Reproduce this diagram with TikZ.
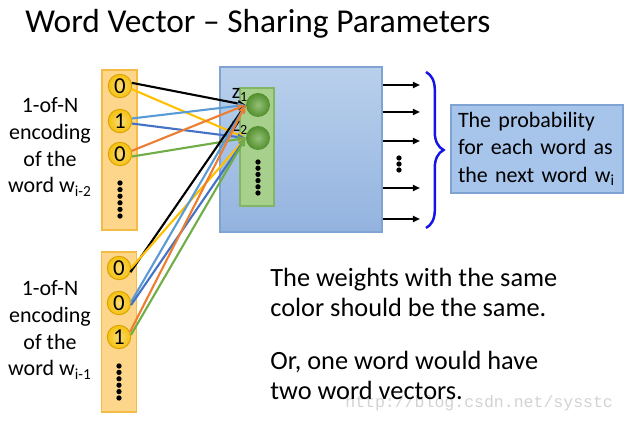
\documentclass[tikz,border=0pt]{standalone}
\usepackage{fontspec}
\setmainfont{Carlito}
\newfontfamily\wmfont{Liberation Mono}
\usetikzlibrary{arrows.meta,positioning,calc,decorations.pathreplacing}
\definecolor{barfill}{HTML}{FDD68C}
\definecolor{baredge}{HTML}{F4BC45}
\definecolor{bitgold}{HTML}{F5C00C}
\definecolor{bitedge}{HTML}{D8A300}
\definecolor{layertop}{HTML}{B9D0EC}
\definecolor{layerbot}{HTML}{93B3DF}
\definecolor{layeredge}{HTML}{7FA4D4}
\definecolor{hidfill}{HTML}{A8D08D}
\definecolor{hidedge}{HTML}{82B564}
\definecolor{hidball}{HTML}{5A9E30}
\definecolor{probfill}{HTML}{A7C4EA}
\definecolor{wyellow}{HTML}{FFC000}
\definecolor{wlblue}{HTML}{5B9BD5}
\definecolor{wdblue}{HTML}{4472C4}
\definecolor{worange}{HTML}{ED7D31}
\definecolor{wgreen}{HTML}{70AD47}
\definecolor{bracec}{HTML}{1414E6}
\definecolor{markgray}{HTML}{D2D2D2}
\tikzset{
  inbar/.style={draw=baredge, fill=barfill, line width=0.6pt, minimum width=0.7cm,
    minimum height=3.2cm, inner sep=0pt},
  bit/.style={circle, draw=bitedge, inner color=bitgold!55!white, outer color=bitgold,
    line width=0.5pt, minimum size=0.47cm, inner sep=0pt, font=\fontsize{13}{13}\selectfont},
  layerbox/.style={draw=layeredge, top color=layertop, bottom color=layerbot,
    line width=0.6pt, minimum width=3.24cm, minimum height=3.3cm},
  hidbar/.style={draw=hidedge, fill=hidfill, line width=0.6pt, minimum width=0.68cm,
    minimum height=2.36cm},
  hid/.style={circle, inner color=hidball!65!white, outer color=hidball!90!black,
    minimum size=0.48cm, inner sep=0pt},
  wt/.style={-{Triangle[length=4.5pt,width=3.6pt]}, line width=1.2pt},
  outarr/.style={-{Triangle[length=4pt,width=3.4pt]}, line width=1.1pt},
  pip/.style={circle, fill=black, inner sep=0pt, minimum size=3pt},
  lab/.style={align=center, font=\fontsize{12.5}{15.2}\selectfont},
  zlab/.style={font=\fontsize{12}{12}\selectfont, inner sep=0pt},
  probbox/.style={draw=layeredge, fill=probfill, line width=0.6pt, minimum width=3.44cm,
    minimum height=1.76cm, text width=3.16cm, align=left, inner sep=0.14cm,
    font=\fontsize{12.5}{15.4}\selectfont},
  note/.style={align=left, anchor=north west, inner sep=0pt, font=\fontsize{15}{17}\selectfont},
  span/.style={decorate, decoration={brace, amplitude=10pt}, line width=1.4pt, color=bracec},
}

\begin{document}
\begin{tikzpicture}[x=0.02cm,y=-0.02cm]
  \useasboundingbox (0,0) rectangle (625,421);
  % title
  \node[anchor=base west, inner sep=0pt, font=\fontsize{19}{19}\selectfont] (title) at (25,33)
      {Word Vector \textendash{} Sharing Parameters};
  % left labels
  \node[lab] (lab1) at (50,147) {1-of-N\\encoding\\of the\\word w\textsubscript{i-2}};
  \node[lab] (lab2) at (50,330) {1-of-N\\encoding\\of the\\word w\textsubscript{i-1}};
  % input bars
  \node[inbar] (bar1) at (119.5,150) {};
  \node[inbar] (bar2) at (119,332) {};
  \foreach \y/\v [count=\i] in {86/0,121/1,154/0} {\node[bit] (a\i) at (120,\y) {\v};}
  \foreach \y/\v [count=\i] in {268/0,303/0,337/1} {\node[bit] (b\i) at (119,\y) {\v};}
  \foreach \k in {0,...,5} {
    \node[pip] at (120,183+6.6*\k) {};
    \node[pip] at (119,366+6.4*\k) {};
  }
  % layer
  \node[layerbox] (layer) at (301,149.5) {};
  \node[hidbar] (hbar) at (257,147) {};
  \node[hid] (h1) at (258,105) {};
  \node[hid] (h2) at (258,138) {};
  \foreach \k in {0,...,5} {\node[pip] at (258,162+6.2*\k) {};}
  \node[zlab] (z1) at (240,95) {z\textsubscript{1}};
  \node[zlab] (z2) at (240,128) {z\textsubscript{2}};
  % shared weights
  \foreach \s/\t/\c in {a1.15/h1/black, a1.-15/h2/wyellow, a2.12/h1/wlblue, a2.-12/h2/wdblue,
      a3.15/h1/worange, a3.-12/h2/wgreen, b1.-20/h1/black, b1.0/h2/wyellow,
      b2.5/h1/wlblue, b2.-10/h2/wdblue, b3.25/h1/worange, b3.10/h2/wgreen} {
    \draw[wt, \c] (\s) -- (\t.west);
  }
  % outputs
  \foreach \y [count=\i] in {85,112,141,188,219} {
    \coordinate (o\i) at (420,\y);
    \draw[outarr] (layer.east |- o\i) -- (o\i);
  }
  \foreach \k in {0,1,2} {\node[pip] at (399,158+6*\k) {};}
  \coordinate (btop) at (426,72);
  \coordinate (bbot) at (426,228);
  \draw[span] (btop) -- (bbot);
  \node[probbox] (prob) at (537,149) {The probability\\for each word as\\the next word w\textsubscript{i}};
  % notes
  \node[anchor=base west, inner sep=0pt, text=markgray, font=\wmfont\fontsize{9.4}{10}\selectfont]
      (mark) at (345,408) {http://blog.csdn.net/sysstc};
  \node[note] (note1) at (270,268) {The weights with the same\\color should be the same.};
  \node[note] (note2) at (270,351) {Or, one word would have\\two word vectors.};
\end{tikzpicture}
\end{document}
